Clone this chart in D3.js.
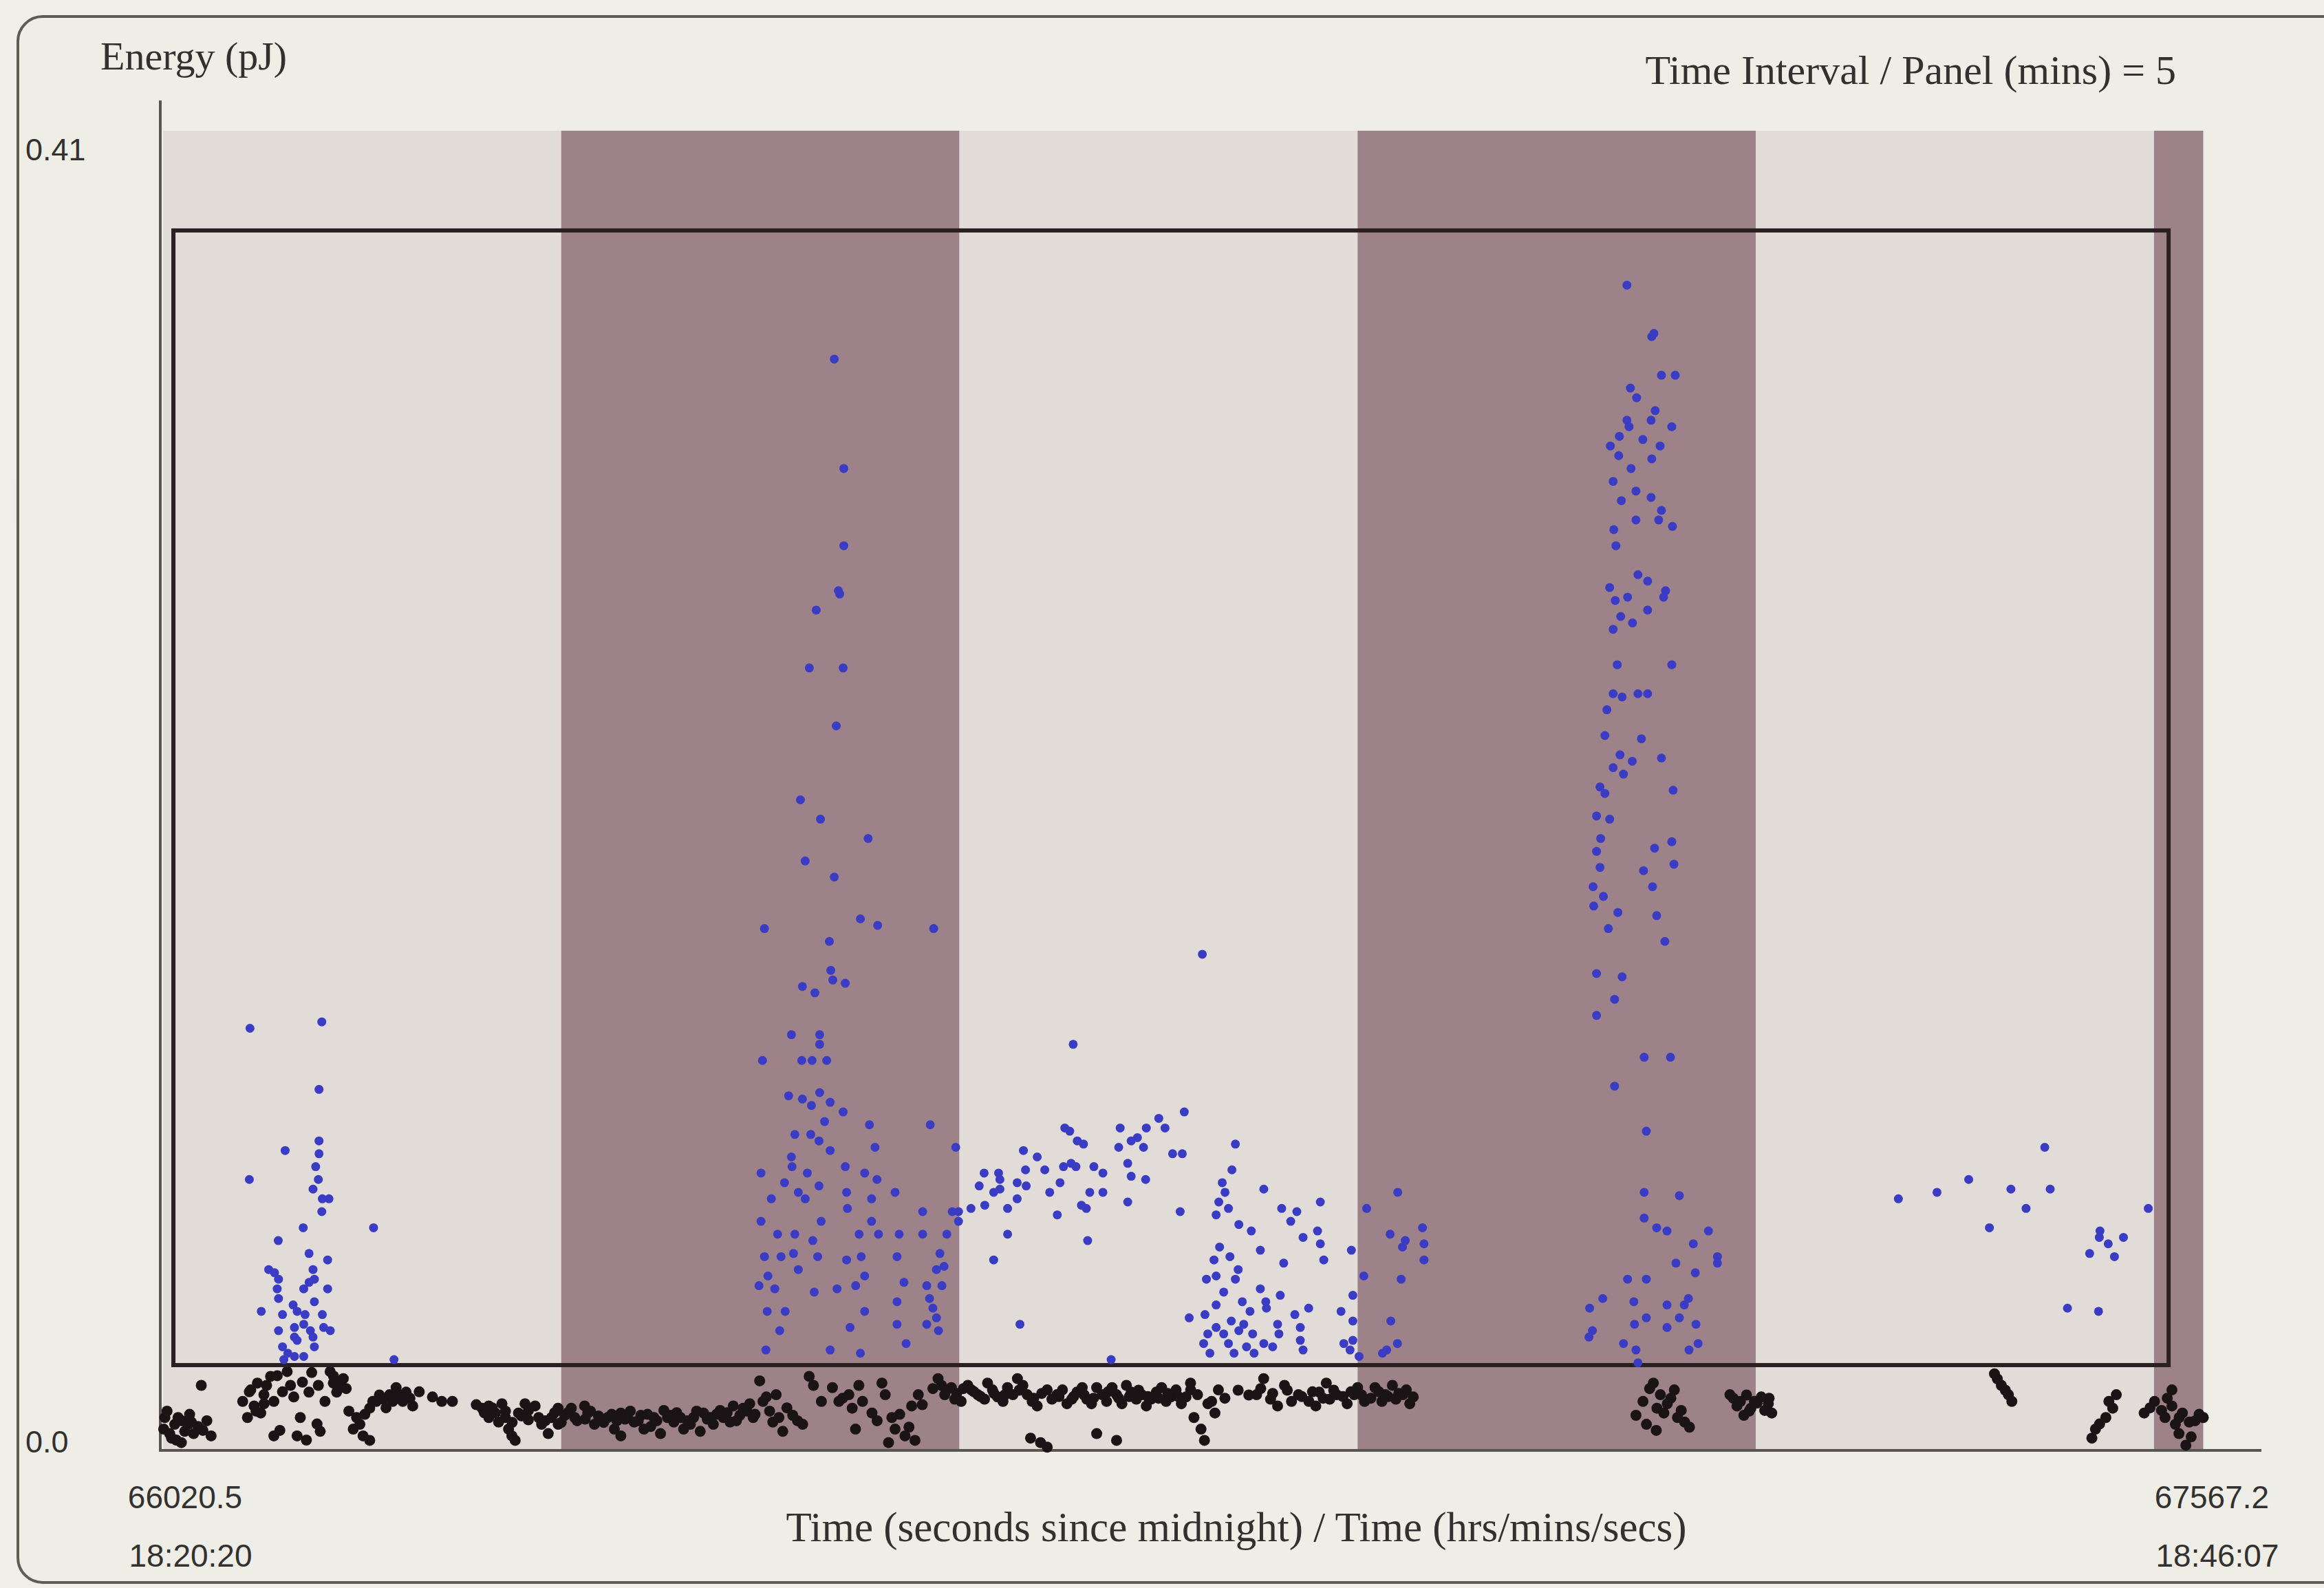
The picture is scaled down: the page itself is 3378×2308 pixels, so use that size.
<!DOCTYPE html>
<html>
<head>
<meta charset="utf-8">
<script src="https://cdn.jsdelivr.net/npm/d3@7"></script>
<style>
  html, body { margin: 0; padding: 0; background: #efeee8; }
  svg { display: block; }
</style>
</head>
<body>
<svg id="chart" width="3378" height="2308"></svg>
<script>
// Record span (seconds since midnight) and panel length
const recordStart = 66020.5;
const recordEnd = 67567.2;
const panelMinutes = 5;

// Energy axis
const energyDomain = [0, 0.41];
const energyTicks = [0.0, 0.41];
const energyTickLabels = ["0.0", "0.41"];

// End labels of the time axis
const timeEndLabels = ["66020.5", "67567.2"];
const clockEndLabels = ["18:20:20", "18:46:07"];

// Acceptance window: time offsets (s after record start) and energy limits (pJ)
const windowOffsets = [7.8, 1511.0];
const windowEnergies = [0.0263, 0.379];

// Events as [seconds after record start, energy in pJ]
const burstA = [
  [65.5,0.131],[119.6,0.133],[117.5,0.112],[117.5,0.096],[117.5,0.092],[92,0.093],[115,0.088],[117,0.084],
  [65,0.084],[113,0.081],[120,0.078],[125,0.078],[119.6,0.074],[105.6,0.069],[158.6,0.069],[86.8,0.065],
  [110,0.061],[124,0.059],[79.6,0.056],[84,0.055],[113,0.056],[87,0.053],[114,0.053],[110,0.052],
  [106,0.050],[124,0.050],[86,0.050],[87,0.047],[114,0.046],[74,0.043],[98,0.045],[101,0.043],
  [107,0.042],[90,0.042],[120,0.042],[106,0.039],[99,0.038],[87,0.037],[111,0.037],[121,0.038],
  [126,0.037],[99,0.035],[101,0.034],[113,0.035],[90,0.032],[114,0.032],[94,0.030],[99,0.029],
  [106,0.029],[174,0.028],[91,0.028]
];

const burstB = [
  [505.7,0.339],[512.9,0.305],[512.9,0.281],[508.8,0.267],[509.8,0.266],[492.1,0.261],[486.9,0.243],[512.4,0.243],
  [507.2,0.225],[480.2,0.202],[495.3,0.196],[531.2,0.190],[483.8,0.183],[505.7,0.178],[453.1,0.162],[525.4,0.165],
  [538.4,0.163],[580.6,0.162],[502.0,0.158],[503.1,0.149],[504.6,0.146],[481.7,0.144],[491.1,0.142],[514.0,0.145],
  [473.4,0.129],[494.7,0.129],[494.7,0.126],[451.6,0.121],[481.2,0.121],[489.0,0.121],[500.0,0.121],[471.3,0.110],
  [481.7,0.109],[494.7,0.111],[488.5,0.107],[502.6,0.108],[512.4,0.105],[498.4,0.102],[532.2,0.101],[578.0,0.101],
  [476.0,0.098],[488.0,0.098],[494.2,0.096],[502.6,0.093],[536.4,0.094],[597.2,0.094],[473.4,0.091],[473.9,0.088],
  [450.5,0.086],[485.4,0.086],[514.0,0.088],[528.6,0.086],[537.9,0.084],[468.2,0.083],[478.6,0.080],[494.2,0.082],
  [515.0,0.080],[458.3,0.078],[483.8,0.078],[533.8,0.078],[551.5,0.080],[515.6,0.075],[450.5,0.071],[495.8,0.071],
  [533.8,0.071],[572.3,0.074],[594.6,0.074],[463.0,0.067],[476.0,0.067],[489.5,0.065],[524.4,0.067],[539.0,0.067],
  [554.6,0.067],[572.3,0.067],[590.5,0.067],[453.1,0.060],[465.6,0.060],[475.0,0.061],[493.2,0.060],[515.0,0.059],
  [526.0,0.060],[553.0,0.060],[585.3,0.061],[455.7,0.054],[478.6,0.056],[528.6,0.054],[582.7,0.056],[449.0,0.051],
  [460.9,0.050],[490.6,0.049],[507.8,0.050],[521.8,0.051],[558.2,0.052],[575.4,0.051],[455.2,0.043],[468.7,0.043],
  [528.6,0.043],[553.0,0.046],[577.5,0.047],[582.7,0.041],[464.6,0.037],[517.6,0.038],[553.0,0.039],[575.4,0.039],
  [454.2,0.031],[502.6,0.031],[525.4,0.030],[559.8,0.033],[586.8,0.051],[580.0,0.044],[588.4,0.057],[584.2,0.037]
];

const burstC = [
  [783.0,0.154],[685.7,0.126],[769.4,0.105],[750.2,0.103],[754.9,0.100],[721.1,0.100],[740.8,0.100],[679.4,0.100],
  [683.1,0.099],[688.8,0.096],[693.5,0.095],[734.1,0.097],[729.4,0.096],[720.0,0.094],[738.7,0.094],[807.9,0.095],
  [648.2,0.093],[760.6,0.092],[767.9,0.092],[658.6,0.091],[684.1,0.089],[687.8,0.088],[678.4,0.088],[649.8,0.087],
  [664.3,0.087],[701.3,0.088],[708.1,0.086],[618.6,0.086],[629.5,0.086],[726.8,0.089],[729.4,0.085],[740.3,0.084],
  [805.3,0.087],[675.8,0.083],[630.5,0.084],[643.5,0.083],[650.3,0.082],[614.9,0.082],[798.0,0.083],[829.3,0.081],
  [630.5,0.081],[668.0,0.080],[698.2,0.080],[708.1,0.080],[800.1,0.080],[625.8,0.080],[643.5,0.078],[795.4,0.077],
  [726.8,0.077],[871.9,0.077],[619.1,0.076],[691.9,0.076],[608.7,0.075],[636.3,0.075],[695.6,0.075],[802.7,0.075],
  [842.8,0.075],[854.2,0.074],[906.8,0.075],[766.3,0.074],[673.7,0.073],[793.4,0.073],[599.3,0.074],[599.3,0.071],
  [849.6,0.071],[810.5,0.070],[636.3,0.067],[819.9,0.068],[869.8,0.068],[696.6,0.065],[858.9,0.066],[871.9,0.064],
  [826.7,0.062],[796.0,0.063],[895.3,0.062],[625.8,0.059],[803.8,0.060],[874.5,0.059],[791.8,0.059],[844.3,0.058],
  [810.0,0.056],[786.1,0.053],[793.4,0.054],[807.9,0.053],[904.7,0.054],[799.1,0.049],[826.7,0.050],[841.7,0.048],
  [896.4,0.048],[813.1,0.046],[830.8,0.046],[793.4,0.045],[863.1,0.044],[818.9,0.043],[831.3,0.044],[773.1,0.041],
  [785.0,0.042],[852.7,0.042],[887.5,0.043],[804.8,0.040],[814.2,0.039],[839.7,0.039],[896.4,0.040],[793.4,0.038],
  [856.8,0.038],[787.1,0.036],[799.1,0.036],[810.5,0.037],[820.9,0.036],[840.7,0.036],[856.8,0.034],[889.6,0.033],
  [896.4,0.034],[784.0,0.033],[802.7,0.033],[816.3,0.032],[829.3,0.033],[836.0,0.032],[858.9,0.031],[788.7,0.030],
  [806.9,0.030],[822.0,0.030],[894.3,0.031],[901.1,0.029],[645.6,0.039],[714.3,0.028],[918.7,0.030],[921.9,0.031]
];

const burstD = [
  [930.2,0.080],[924.5,0.067],[935.9,0.065],[948.9,0.069],[950.0,0.064],[933.8,0.063],[950.0,0.059],[932.8,0.053],
  [925.0,0.040],[930.0,0.033]
];

const burstE = [
  [1102.9,0.362],[1121.6,0.346],[1123.2,0.347],[1128.9,0.334],[1139.3,0.334],[1105.5,0.330],[1110.2,0.327],[1102.9,0.320],
  [1104.5,0.318],[1124.2,0.323],[1121.1,0.320],[1136.7,0.318],[1090.4,0.312],[1097.2,0.315],[1114.9,0.314],[1127.9,0.312],
  [1096.7,0.309],[1106.0,0.305],[1121.6,0.308],[1092.5,0.301],[1109.7,0.298],[1121.1,0.296],[1098.7,0.295],[1128.9,0.292],
  [1126.8,0.289],[1093.0,0.286],[1109.7,0.289],[1137.2,0.287],[1094.6,0.281],[1111.2,0.272],[1118.5,0.270],[1089.9,0.268],
  [1103.4,0.265],[1130.5,0.265],[1132.0,0.267],[1094.1,0.264],[1118.5,0.261],[1098.2,0.259],[1107.1,0.257],[1092.5,0.255],
  [1095.6,0.244],[1136.7,0.244],[1092.5,0.235],[1099.3,0.234],[1111.2,0.235],[1118.5,0.235],[1087.8,0.230],[1086.3,0.222],
  [1113.8,0.221],[1097.7,0.216],[1100.3,0.210],[1092.5,0.212],[1106.9,0.214],[1128.9,0.215],[1082.6,0.206],[1086.3,0.204],
  [1137.7,0.205],[1080.0,0.197],[1089.9,0.196],[1083.1,0.190],[1123.7,0.187],[1136.7,0.189],[1080.0,0.186],[1082.6,0.181],
  [1115.4,0.180],[1138.3,0.182],[1077.4,0.175],[1085.2,0.172],[1077.9,0.169],[1122.2,0.175],[1096.1,0.167],[1088.9,0.162],
  [1125.3,0.166],[1131.5,0.158],[1080.0,0.148],[1099.3,0.147],[1093.6,0.140],[1080.0,0.135],[1115.9,0.122],[1135.7,0.122],
  [1093.6,0.113],[1117.5,0.099],[1115.9,0.080],[1142.4,0.079],[1115.9,0.072],[1125.3,0.069],[1133.1,0.068],[1164.3,0.068],
  [1152.9,0.064],[1139.8,0.058],[1171.1,0.060],[1103.4,0.053],[1117.5,0.053],[1074.8,0.044],[1084.7,0.047],[1108.1,0.046],
  [1133.1,0.045],[1149.2,0.047],[1076.9,0.037],[1108.6,0.039],[1117.5,0.041],[1133.1,0.038],[1142.4,0.041],[1154.9,0.039],
  [1100.3,0.033],[1109.7,0.031],[1149.7,0.031],[1156.5,0.033],[1074.3,0.035],[1111.2,0.027],[1171.1,0.058],[1154.4,0.055],
  [1146.1,0.045]
];

const burstF = [
  [1307.4,0.078],[1336.5,0.080],[1360.4,0.084],[1376.0,0.069],[1392.2,0.081],[1403.6,0.075],[1417.7,0.094],[1421.8,0.081],
  [1459.3,0.068],[1458.8,0.066],[1465.5,0.064],[1477.0,0.066],[1451.5,0.061],[1470.2,0.060],[1495.7,0.075],[1434.8,0.044],
  [1458.2,0.043]
];

// Low-energy background events beneath the window
const background = [
  [1.4,0.0100],[8.8,0.0079],[16.3,0.0057],[6.4,0.0036],[21.3,0.0086],[13.8,0.0022],[26.3,0.0072],[36.2,0.0043],
  [0.5,0.0064],[11.3,0.0100],[18.8,0.0079],[28.8,0.0200],
  [3,0.0120],[5,0.0050],[10,0.0030],[14,0.0090],[20,0.0110],[23,0.0050],[30,0.0060],[33,0.0090],
  [71.1,0.0207],[76.0,0.0171],[68.6,0.0136],[63.6,0.0100],[81.0,0.0228],[83.5,0.0150],[73.6,0.0114],[66.1,0.0186],[76.1,0.0143],
  [60,0.0150],[65,0.0180],[70,0.0120],[78,0.0200],[86,0.0230],[90,0.0180],[105,0.0210],[112,0.0240],[117,0.0200],
  [122,0.0150],[131,0.0210],[138,0.0190],[88,0.0060],[108,0.0030],[116,0.0080],
  [83.5,0.0043],[93.5,0.0243],[96.0,0.0200],[98.5,0.0164],[103.4,0.0100],[101.0,0.0043],[109.9,0.0179],[118.4,0.0057],
  [125.9,0.0243],[128.3,0.0207],[130.8,0.0179],[135.8,0.0221],[128.4,0.0229],[133.4,0.0193],
  [145.8,0.0100],[143.3,0.0064],[150.7,0.0043],[155.7,0.0129],[160.7,0.0150],[155.7,0.0029],[148.3,0.0079],[165.7,0.0157],
  [140,0.0120],[152,0.0110],[158,0.0150],[163,0.0170],[168,0.0130],[173,0.0150],[178,0.0170],[186,0.0160],[193,0.0180],[210,0.0150],
  [170.7,0.0171],[175.6,0.0193],[180.6,0.0150],[188.1,0.0136],[183.1,0.0179],[203.0,0.0164],[218.0,0.0150],
  [240.4,0.0129],[245.4,0.0100],[252.8,0.0086],[260.3,0.0064],[265.3,0.0029],[267.8,0.0114],[272.7,0.0143],[275.2,0.0093],
  [255.3,0.0143],[245.4,0.0136],[250.4,0.0114],[257.9,0.0100],[262.8,0.0043],[275.3,0.0122],[280.3,0.0136],
  [236,0.0140],[242,0.0115],[248,0.0130],[258,0.0120],[263,0.0085],[270,0.0105],[283,0.0100],[288,0.0090],[295,0.0115],[300,0.0085],
  [285.2,0.0079],[292.7,0.0100],[297.6,0.0129],[302.6,0.0107],[290.2,0.0050],[297.7,0.0079],[307.6,0.0129],[317.6,0.0136],
  [310.1,0.0100],[320.0,0.0114],[325.0,0.0079],[335.0,0.0100],[340.0,0.0064],[344.9,0.0114],[354.9,0.0086],[362.3,0.0064],
  [369.8,0.0100],[377.3,0.0122],[384.8,0.0086],[392.2,0.0064],[399.7,0.0100],[407.2,0.0114],[414.6,0.0079],[422.1,0.0100],
  [429.6,0.0136],[434.6,0.0107],[442.0,0.0143],[344.9,0.0043],[374.8,0.0050],[404.7,0.0057],
  [330.0,0.0093],[350.0,0.0100],[360.0,0.0107],[367.4,0.0072],[382.3,0.0107],[389.8,0.0100],[397.3,0.0079],[412.2,0.0100],
  [419.7,0.0122],[427.2,0.0086],[437.1,0.0129],[444.6,0.0100],
  [305,0.0115],[312,0.0090],[318,0.0095],[322,0.0120],[328,0.0105],[332,0.0085],[338,0.0110],[342,0.0090],[348,0.0095],
  [352,0.0120],[358,0.0090],[365,0.0110],[372,0.0090],[380,0.0100],[387,0.0115],[395,0.0090],[402,0.0120],[410,0.0095],
  [417,0.0110],[425,0.0115],[432,0.0090],[440,0.0120],[446,0.0110],
  [449.5,0.0214],[454.5,0.0164],[459.4,0.0086],[466.9,0.0057],[474.4,0.0107],[481.9,0.0079],[486.8,0.0228],[461.9,0.0171],
  [452,0.0150],[457,0.0120],[464,0.0100],[470,0.0130],[478,0.0090],[490,0.0200],[496,0.0150],[512,0.0160],[527,0.0150],
  [538,0.0090],[555,0.0110],[562,0.0070],[572,0.0140],
  [504.3,0.0193],[509.2,0.0150],[516.7,0.0171],[519.2,0.0129],[521.7,0.0064],[524.2,0.0200],[534.1,0.0114],[541.6,0.0207],
  [544.1,0.0171],[549.1,0.0100],[551.5,0.0064],[559.0,0.0043],[564.0,0.0136],[569.0,0.0171],[546.6,0.0022],[566.5,0.0029],
  [583.9,0.0221],[588.9,0.0171],[593.9,0.0193],[601.3,0.0150],[606.3,0.0200],[613.8,0.0171],[621.2,0.0207],[628.7,0.0164],
  [636.2,0.0193],[643.7,0.0221],[651.1,0.0171],[658.6,0.0136],[666.1,0.0186],[673.5,0.0171],[681.0,0.0143],[688.5,0.0179],
  [696.0,0.0157],[703.4,0.0193],[710.9,0.0150],[718.4,0.0171],[725.8,0.0200],[733.3,0.0157],[740.8,0.0136],[748.3,0.0179],
  [755.7,0.0150],[763.2,0.0186],[770.7,0.0164],
  [586.5,0.0200],[596.5,0.0157],[609.0,0.0186],[618.9,0.0157],[624.9,0.0186],[632.8,0.0150],[640.3,0.0171],[647.8,0.0200],
  [654.8,0.0150],[669.7,0.0157],[677.6,0.0186],[684.6,0.0157],[692.5,0.0193],[699.5,0.0143],[707.5,0.0171],[715.0,0.0193],
  [722.4,0.0143],[729.4,0.0179],[737.4,0.0171],[744.3,0.0157],[752.3,0.0193],[759.3,0.0164],[767.2,0.0143],[774.2,0.0186],
  [580,0.0190],[590,0.0185],[598,0.0175],[603,0.0190],[611,0.0180],[616,0.0165],[626,0.0175],[634,0.0170],[645,0.0185],
  [656,0.0160],[662,0.0175],[675,0.0165],[686,0.0165],[694,0.0170],[701,0.0160],[712,0.0180],[720,0.0160],[728,0.0165],
  [735,0.0185],[742,0.0165],[750,0.0160],[757,0.0175],[765,0.0165],
  [653.6,0.0036],[661.1,0.0022],[666.1,0.0008],[703.4,0.0050],[718.4,0.0029],
  [774.1,0.0207],[779.4,0.0171],[787.2,0.0143],[776.7,0.0100],[782.0,0.0064],[784.6,0.0029],[795.1,0.0186],[792.5,0.0114],
  [823.9,0.0171],[834.4,0.0157],[829.2,0.0221],[844.9,0.0200],[855.4,0.0171],[863.3,0.0150],[871.1,0.0179],[876.4,0.0207],
  [884.2,0.0171],[892.1,0.0143],[900.0,0.0193],[839.7,0.0136],[868.5,0.0136],[850.2,0.0150],[879.0,0.0157],[897.4,0.0171],
  [905.2,0.0150],[913.1,0.0193],[921.0,0.0171],[928.8,0.0157],[936.7,0.0186],[941.9,0.0164],[926.2,0.0200],[918.3,0.0150],
  [934.1,0.0171],[939.3,0.0143],
  [790,0.0150],[800,0.0160],[810,0.0185],[818,0.0170],[827,0.0190],[836,0.0175],[847,0.0185],[858,0.0165],[866,0.0180],
  [874,0.0160],[882,0.0185],[889,0.0165],[895,0.0180],[903,0.0170],[910,0.0160],[916,0.0180],[923,0.0165],[931,0.0175],
  [1122.8,0.0207],[1128.1,0.0171],[1133.3,0.0143],[1130.7,0.0114],[1109.7,0.0107],[1143.8,0.0122],[1146.4,0.0086],
  [1117.6,0.0079],[1138.6,0.0186],[1125.5,0.0129],
  [1115,0.0150],[1120,0.0190],[1136,0.0160],[1141,0.0100],[1150,0.0070],[1125,0.0060],
  [1180.5,0.0171],[1188.4,0.0150],[1196.3,0.0129],[1204.1,0.0164],[1209.4,0.0143],[1191.0,0.0107],[1212.0,0.0114],
  [1185.8,0.0136],[1198.9,0.0150],[1206.7,0.0122],
  [1183,0.0160],[1193,0.0170],[1201,0.0145],[1210,0.0160],[1195,0.0120],
  [1379.8,0.0236],[1385.0,0.0200],[1390.3,0.0171],[1392.9,0.0150],[1382,0.0220],[1388,0.0185],
  [1471.6,0.0171],[1468.9,0.0129],[1463.7,0.0100],[1455.9,0.0064],[1453.2,0.0036],[1466,0.0150],[1459,0.0080],
  [1500.4,0.0150],[1505.7,0.0122],[1513.5,0.0136],[1521.4,0.0114],[1526.6,0.0086],[1518.8,0.0050],[1524.0,0.0014],
  [1537.1,0.0100],[1492.6,0.0114],[1513.5,0.0186],[1508.3,0.0100],[1516.1,0.0079],
  [1497,0.0130],[1510,0.0160],[1519,0.0100],[1531,0.0090],[1528,0.0040],[1534,0.0110]
];

const eventGroups = [burstA, burstB, burstC, burstD, burstE, burstF, background];

// ---- drawing ----
const svg = d3.select("#chart");

const x = d3.scaleLinear().domain([recordStart, recordEnd]).range([237, 3221]);
const y = d3.scaleLinear().domain(energyDomain).range([2107, 190]);

const serif = "'Liberation Serif', 'DejaVu Serif', serif";
const sans = "'Liberation Sans', Arial, sans-serif";
const textColor = "#333130";

// outer rounded frame (runs off the right edge)
svg.append("rect")
  .attr("x", 26).attr("y", 24)
  .attr("width", 3420).attr("height", 2276)
  .attr("rx", 36).attr("ry", 36)
  .attr("fill", "#eeede6")
  .attr("stroke", "#5f5b57").attr("stroke-width", 4);

const events = eventGroups.flat().map(([dt, e]) => ({ t: recordStart + dt, e }));
const lastEvent = d3.max(events, d => d.t);

// alternating 5-minute panels, shaded up to the last recorded event
const panelSeconds = panelMinutes * 60;
const panels = d3.range(Math.ceil((lastEvent - recordStart) / panelSeconds)).map(k => ({
  t0: recordStart + k * panelSeconds,
  t1: Math.min(recordStart + (k + 1) * panelSeconds, lastEvent),
  dark: k % 2 === 1
}));
svg.append("g").selectAll("rect").data(panels).join("rect")
  .attr("x", d => x(d.t0))
  .attr("width", d => x(d.t1) - x(d.t0))
  .attr("y", y(energyDomain[1]))
  .attr("height", y(energyDomain[0]) - y(energyDomain[1]))
  .attr("fill", d => d.dark ? "#9e8289" : "#e1dcd8");

// axis lines
const axisColor = "#585553";
svg.append("line")
  .attr("x1", 233).attr("x2", 233)
  .attr("y1", y(energyDomain[1]) - 44).attr("y2", y(0) + 2)
  .attr("stroke", axisColor).attr("stroke-width", 4);
svg.append("line")
  .attr("x1", 231).attr("x2", 3287)
  .attr("y1", y(0) + 1).attr("y2", y(0) + 1)
  .attr("stroke", axisColor).attr("stroke-width", 4);

// events: black below the window's lower energy limit, blue inside it
const threshold = windowEnergies[0];
svg.append("g").selectAll("circle")
  .data(events.filter(d => d.e < threshold)).join("circle")
  .attr("cx", d => x(d.t)).attr("cy", d => y(d.e))
  .attr("r", 8).attr("fill", "#1b1416");

// acceptance window
svg.append("rect")
  .attr("x", x(recordStart + windowOffsets[0]))
  .attr("y", y(windowEnergies[1]))
  .attr("width", x(recordStart + windowOffsets[1]) - x(recordStart + windowOffsets[0]))
  .attr("height", y(windowEnergies[0]) - y(windowEnergies[1]))
  .attr("fill", "none")
  .attr("stroke", "#2a2023").attr("stroke-width", 6);

svg.append("g").selectAll("circle")
  .data(events.filter(d => d.e >= threshold)).join("circle")
  .attr("cx", d => x(d.t)).attr("cy", d => y(d.e))
  .attr("r", 6.5).attr("fill", "#3b3cc4");

// energy tick labels
svg.append("g").selectAll("text").data(energyTicks).join("text")
  .attr("x", 37)
  .attr("y", (d, i) => y(d) + (i === 0 ? 4 : 43))
  .attr("font-family", sans).attr("font-size", 45).attr("fill", textColor)
  .text((d, i) => energyTickLabels[i]);

// titles
svg.append("text")
  .attr("x", 146).attr("y", 101)
  .attr("font-family", serif).attr("font-size", 58).attr("fill", textColor)
  .text("Energy (pJ)");
svg.append("text")
  .attr("x", 3163).attr("y", 122).attr("text-anchor", "end")
  .attr("font-family", serif).attr("font-size", 60).attr("fill", textColor)
  .text("Time Interval / Panel (mins) = " + panelMinutes);
svg.append("text")
  .attr("x", 1797).attr("y", 2240).attr("text-anchor", "middle")
  .attr("font-family", serif).attr("font-size", 61).attr("fill", textColor)
  .text("Time (seconds since midnight) / Time (hrs/mins/secs)");

// time axis end labels
const endTimes = [recordStart, recordEnd];
const endShift = [32, -6];
svg.append("g").selectAll("text").data(endTimes).join("text")
  .attr("x", (d, i) => x(d) + endShift[i]).attr("y", 2192)
  .attr("text-anchor", "middle")
  .attr("font-family", sans).attr("font-size", 46).attr("fill", textColor)
  .text((d, i) => timeEndLabels[i]);
svg.append("g").selectAll("text").data(endTimes).join("text")
  .attr("x", (d, i) => x(d) + endShift[i] + 8).attr("y", 2277)
  .attr("text-anchor", "middle")
  .attr("font-family", sans).attr("font-size", 46).attr("fill", textColor)
  .text((d, i) => clockEndLabels[i]);
</script>
</body>
</html>
